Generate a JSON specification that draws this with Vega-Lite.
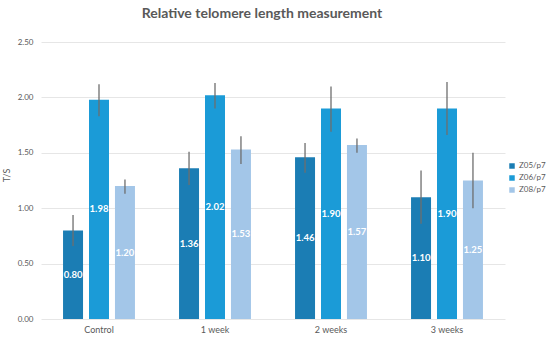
{
  "$schema": "https://vega.github.io/schema/vega-lite/v6.json",
  "width": 464,
  "height": 288,
  "autosize": {"type": "none"},
  "padding": {"left": 41, "top": 31, "right": 45, "bottom": 21},
  "background": "white",
  "title": {
    "text": "Relative telomere length measurement",
    "fontSize": 14,
    "fontWeight": "bold",
    "color": "#595959",
    "font": "Lato",
    "offset": 10,
    "dx": -11
  },
  "config": {
    "view": {"stroke": null},
    "font": "Lato"
  },
  "data": {
    "values": [
      {"time": "Control", "group": "Z05/p7", "ts": 0.80, "lo": 0.66, "hi": 0.94},
      {"time": "Control", "group": "Z06/p7", "ts": 1.98, "lo": 1.83, "hi": 2.12},
      {"time": "Control", "group": "Z08/p7", "ts": 1.20, "lo": 1.13, "hi": 1.26},
      {"time": "1 week", "group": "Z05/p7", "ts": 1.36, "lo": 1.21, "hi": 1.51},
      {"time": "1 week", "group": "Z06/p7", "ts": 2.02, "lo": 1.90, "hi": 2.13},
      {"time": "1 week", "group": "Z08/p7", "ts": 1.53, "lo": 1.40, "hi": 1.65},
      {"time": "2 weeks", "group": "Z05/p7", "ts": 1.46, "lo": 1.32, "hi": 1.59},
      {"time": "2 weeks", "group": "Z06/p7", "ts": 1.90, "lo": 1.69, "hi": 2.10},
      {"time": "2 weeks", "group": "Z08/p7", "ts": 1.57, "lo": 1.50, "hi": 1.63},
      {"time": "3 weeks", "group": "Z05/p7", "ts": 1.10, "lo": 0.86, "hi": 1.34},
      {"time": "3 weeks", "group": "Z06/p7", "ts": 1.90, "lo": 1.66, "hi": 2.14},
      {"time": "3 weeks", "group": "Z08/p7", "ts": 1.25, "lo": 1.00, "hi": 1.50}
    ]
  },
  "encoding": {
    "x": {
      "field": "time",
      "type": "nominal",
      "sort": ["Control", "1 week", "2 weeks", "3 weeks"],
      "scale": {"paddingInner": 0.38, "paddingOuter": 0.19},
      "axis": {
        "title": null,
        "labelAngle": 0,
        "domain": false,
        "ticks": false,
        "labelFontSize": 9,
        "labelColor": "#595959",
        "labelPadding": 6
      }
    },
    "xOffset": {
      "field": "group",
      "type": "nominal",
      "scale": {"paddingInner": 0.23, "paddingOuter": 0}
    }
  },
  "layer": [
    {
      "mark": {"type": "bar"},
      "encoding": {
        "y": {
          "field": "ts",
          "type": "quantitative",
          "scale": {"domain": [0, 2.5]},
          "axis": {
            "title": "T/S",
            "titleFontSize": 9,
            "titleFontWeight": "normal",
            "titleColor": "#595959",
            "titlePadding": 6,
            "values": [0, 0.5, 1, 1.5, 2, 2.5],
            "format": ".2f",
            "domain": false,
            "ticks": false,
            "labelFontSize": 8,
            "labelColor": "#595959",
            "labelPadding": 8,
            "gridColor": "#e6e6e6",
            "gridWidth": 1
          }
        },
        "color": {
          "field": "group",
          "type": "nominal",
          "scale": {"range": ["#1b7db4", "#1b9bd7", "#a3c6e8"]},
          "legend": {
            "title": null,
            "orient": "none",
            "legendX": 467,
            "legendY": 131,
            "symbolType": "square",
            "symbolSize": 30,
            "labelFontSize": 8,
            "labelColor": "#595959",
            "labelOffset": 3,
            "rowPadding": 4
          }
        }
      }
    },
    {
      "mark": {"type": "rule", "color": "#6e6e6e", "strokeWidth": 1.3},
      "encoding": {
        "y": {"field": "lo", "type": "quantitative"},
        "y2": {"field": "hi"}
      }
    },
    {
      "transform": [{"calculate": "datum.ts / 2", "as": "labelPos"}],
      "mark": {"type": "text", "color": "white", "fontWeight": "bold", "fontSize": 9.5, "baseline": "middle"},
      "encoding": {
        "y": {"field": "labelPos", "type": "quantitative"},
        "text": {"field": "ts", "type": "quantitative", "format": ".2f"}
      }
    }
  ]
}
